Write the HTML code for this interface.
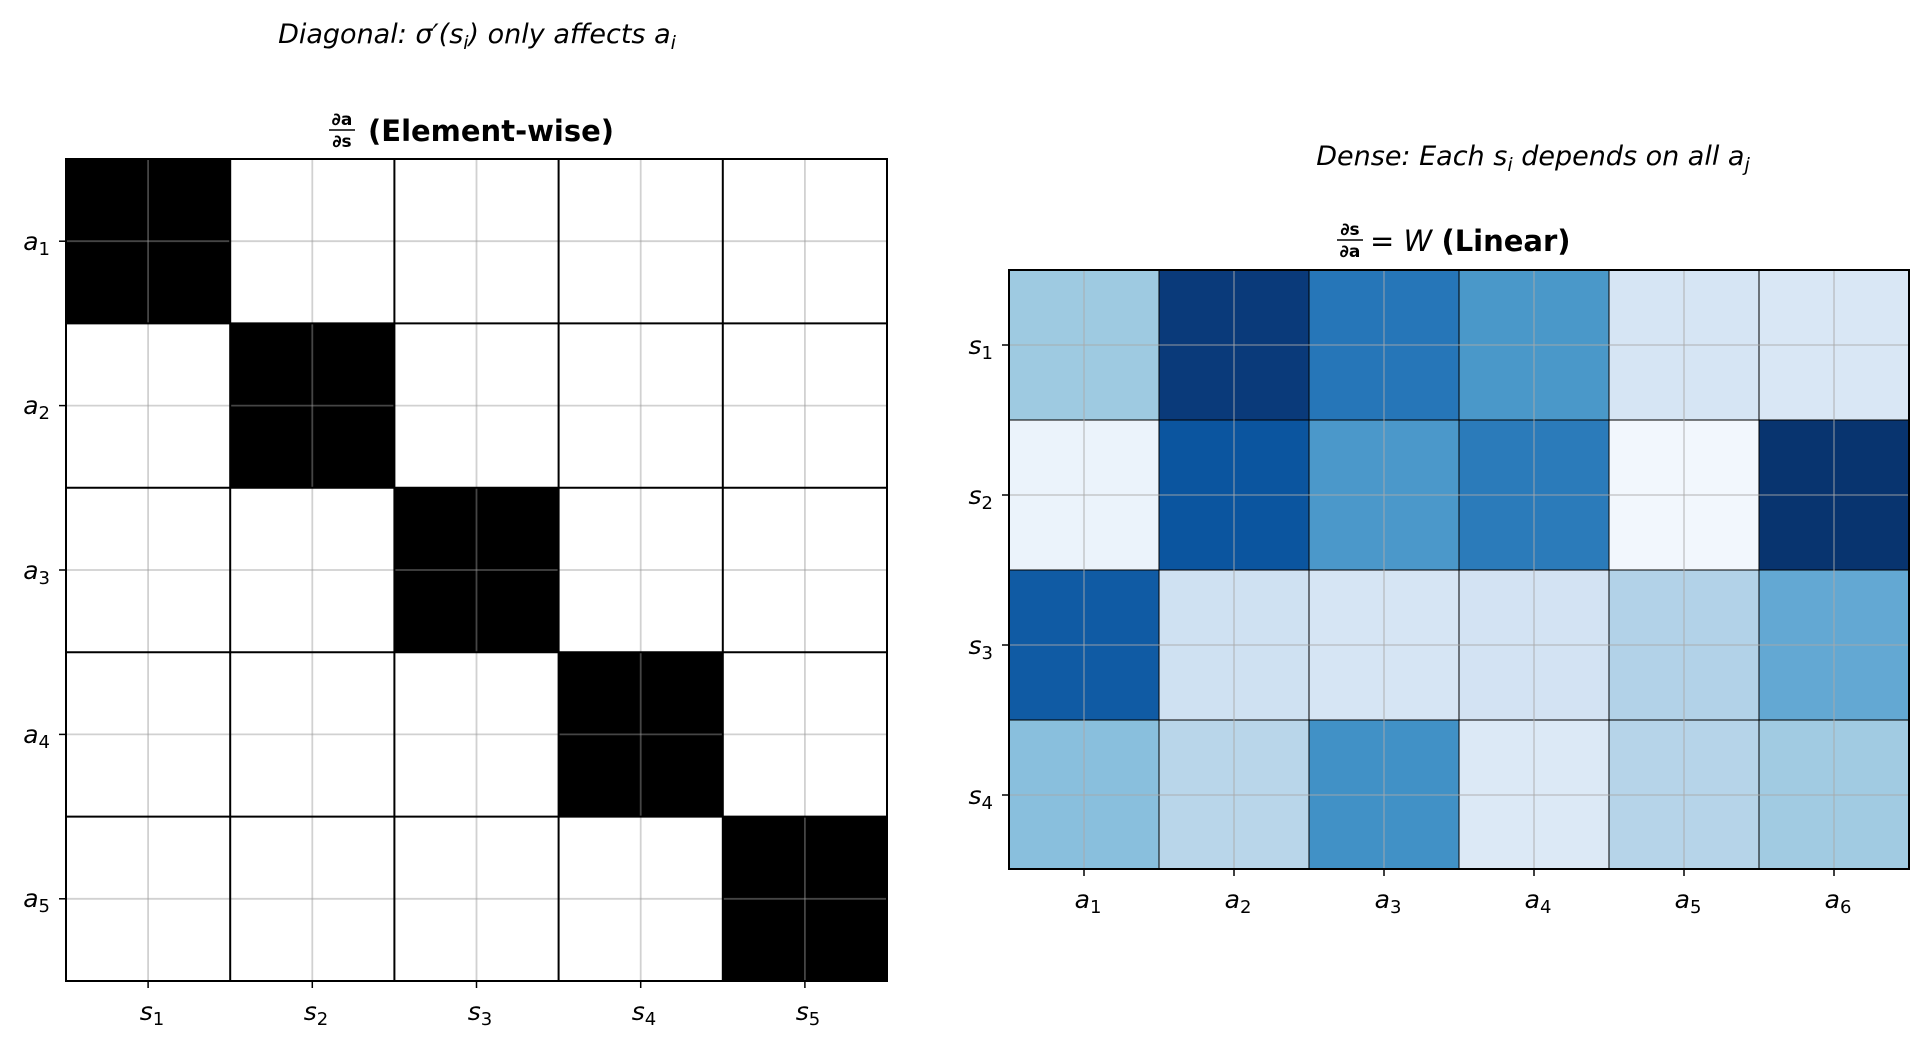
<!DOCTYPE html>
<html><head><meta charset="utf-8"><style>html,body{margin:0;padding:0;background:#fff}</style></head>
<body>
<svg width="1927" height="1044" xmlns="http://www.w3.org/2000/svg" font-family="DejaVu Sans, sans-serif">
<rect width="1927" height="1044" fill="#fff"/>
<text x="477" y="43" font-size="27" font-style="italic" text-anchor="middle">Diagonal: σ′(s<tspan font-size="19" dy="6">i</tspan><tspan dy="-6">) only affects a</tspan><tspan font-size="19" dy="6">i</tspan></text>
<g font-weight="bold">
<text x="342" y="125" font-size="17" text-anchor="middle">∂a</text>
<line x1="329" y1="130" x2="355" y2="130" stroke="#000" stroke-width="1.4"/>
<text x="342" y="147" font-size="17" text-anchor="middle">∂s</text>
<text x="368" y="141" font-size="29">(Element-wise)</text>
</g>
<g>
<rect x="66" y="159" width="821" height="822" fill="#fff"/>
<rect x="66" y="159" width="164.2" height="164.4" fill="#000"/>
<rect x="230.2" y="323.4" width="164.2" height="164.4" fill="#000"/>
<rect x="394.4" y="487.8" width="164.2" height="164.4" fill="#000"/>
<rect x="558.6" y="652.2" width="164.2" height="164.4" fill="#000"/>
<rect x="722.8" y="816.6" width="164.2" height="164.4" fill="#000"/>
<g stroke="#999" stroke-opacity="0.45" stroke-width="1.8">
<line x1="148.1" y1="159" x2="148.1" y2="981"/><line x1="312.3" y1="159" x2="312.3" y2="981"/><line x1="476.5" y1="159" x2="476.5" y2="981"/><line x1="640.7" y1="159" x2="640.7" y2="981"/><line x1="804.9" y1="159" x2="804.9" y2="981"/>
<line x1="66" y1="241.2" x2="887" y2="241.2"/><line x1="66" y1="405.6" x2="887" y2="405.6"/><line x1="66" y1="570" x2="887" y2="570"/><line x1="66" y1="734.4" x2="887" y2="734.4"/><line x1="66" y1="898.8" x2="887" y2="898.8"/>
</g>
<g stroke="#000" stroke-width="2">
<line x1="230.2" y1="159" x2="230.2" y2="981"/><line x1="394.4" y1="159" x2="394.4" y2="981"/><line x1="558.6" y1="159" x2="558.6" y2="981"/><line x1="722.8" y1="159" x2="722.8" y2="981"/>
<line x1="66" y1="323.4" x2="887" y2="323.4"/><line x1="66" y1="487.8" x2="887" y2="487.8"/><line x1="66" y1="652.2" x2="887" y2="652.2"/><line x1="66" y1="816.6" x2="887" y2="816.6"/>
</g>
<rect x="66" y="159" width="821" height="822" fill="none" stroke="#000" stroke-width="2"/>
<g stroke="#000" stroke-width="1.5">
<line x1="59" y1="241.2" x2="66" y2="241.2"/><line x1="59" y1="405.6" x2="66" y2="405.6"/><line x1="59" y1="570" x2="66" y2="570"/><line x1="59" y1="734.4" x2="66" y2="734.4"/><line x1="59" y1="898.8" x2="66" y2="898.8"/>
<line x1="148.1" y1="981" x2="148.1" y2="988"/><line x1="312.3" y1="981" x2="312.3" y2="988"/><line x1="476.5" y1="981" x2="476.5" y2="988"/><line x1="640.7" y1="981" x2="640.7" y2="988"/><line x1="804.9" y1="981" x2="804.9" y2="988"/>
</g>
<g font-size="25" font-style="italic" text-anchor="end">
<text x="50" y="250">a<tspan font-size="18" font-style="normal" dy="5">1</tspan></text>
<text x="50" y="414">a<tspan font-size="18" font-style="normal" dy="5">2</tspan></text>
<text x="50" y="579">a<tspan font-size="18" font-style="normal" dy="5">3</tspan></text>
<text x="50" y="743">a<tspan font-size="18" font-style="normal" dy="5">4</tspan></text>
<text x="50" y="907">a<tspan font-size="18" font-style="normal" dy="5">5</tspan></text>
</g>
<g font-size="25" font-style="italic" text-anchor="middle">
<text x="152" y="1020">s<tspan font-size="18" font-style="normal" dy="5">1</tspan></text>
<text x="316" y="1020">s<tspan font-size="18" font-style="normal" dy="5">2</tspan></text>
<text x="480" y="1020">s<tspan font-size="18" font-style="normal" dy="5">3</tspan></text>
<text x="644" y="1020">s<tspan font-size="18" font-style="normal" dy="5">4</tspan></text>
<text x="808" y="1020">s<tspan font-size="18" font-style="normal" dy="5">5</tspan></text>
</g>
</g>
<text x="1533" y="165" font-size="27" font-style="italic" text-anchor="middle">Dense: Each s<tspan font-size="19" dy="6">i</tspan><tspan dy="-6"> depends on all a</tspan><tspan font-size="19" dy="6">j</tspan></text>
<g>
<text x="1350" y="235" font-size="17" font-weight="bold" text-anchor="middle">∂s</text>
<line x1="1337" y1="240" x2="1363" y2="240" stroke="#000" stroke-width="1.4"/>
<text x="1350" y="257" font-size="17" font-weight="bold" text-anchor="middle">∂a</text>
<text x="1370" y="251" font-size="29">= <tspan font-style="italic" font-weight="normal">W</tspan> <tspan font-weight="bold">(Linear)</tspan></text>
</g>
<g>
<g stroke="#000" stroke-width="1">
<rect x="1009" y="270" width="150" height="150" fill="#9ecae1"/>
<rect x="1159" y="270" width="150" height="150" fill="#0a3a7a"/>
<rect x="1309" y="270" width="150" height="150" fill="#2676b8"/>
<rect x="1459" y="270" width="150" height="150" fill="#4a98c9"/>
<rect x="1609" y="270" width="150" height="150" fill="#d6e5f4"/>
<rect x="1759" y="270" width="150" height="150" fill="#d9e7f5"/>
<rect x="1009" y="420" width="150" height="150" fill="#ebf3fb"/>
<rect x="1159" y="420" width="150" height="150" fill="#0b559f"/>
<rect x="1309" y="420" width="150" height="150" fill="#4b98ca"/>
<rect x="1459" y="420" width="150" height="150" fill="#2b7bba"/>
<rect x="1609" y="420" width="150" height="150" fill="#f2f7fd"/>
<rect x="1759" y="420" width="150" height="150" fill="#08346f"/>
<rect x="1009" y="570" width="150" height="150" fill="#105ba4"/>
<rect x="1159" y="570" width="150" height="150" fill="#cfe1f2"/>
<rect x="1309" y="570" width="150" height="150" fill="#d6e5f4"/>
<rect x="1459" y="570" width="150" height="150" fill="#d3e3f3"/>
<rect x="1609" y="570" width="150" height="150" fill="#b2d2e8"/>
<rect x="1759" y="570" width="150" height="150" fill="#63a8d3"/>
<rect x="1009" y="720" width="150" height="149" fill="#89bfdd"/>
<rect x="1159" y="720" width="150" height="149" fill="#b9d6ea"/>
<rect x="1309" y="720" width="150" height="149" fill="#4191c6"/>
<rect x="1459" y="720" width="150" height="149" fill="#dce9f6"/>
<rect x="1609" y="720" width="150" height="149" fill="#b6d4e9"/>
<rect x="1759" y="720" width="150" height="149" fill="#a1cbe2"/>
</g>
<g stroke="#aaa" stroke-opacity="0.5" stroke-width="1.8">
<line x1="1084" y1="270" x2="1084" y2="869"/><line x1="1234" y1="270" x2="1234" y2="869"/><line x1="1384" y1="270" x2="1384" y2="869"/><line x1="1534" y1="270" x2="1534" y2="869"/><line x1="1684" y1="270" x2="1684" y2="869"/><line x1="1834" y1="270" x2="1834" y2="869"/>
<line x1="1009" y1="345" x2="1909" y2="345"/><line x1="1009" y1="495" x2="1909" y2="495"/><line x1="1009" y1="645" x2="1909" y2="645"/><line x1="1009" y1="795" x2="1909" y2="795"/>
</g>
<rect x="1009" y="270" width="900" height="599" fill="none" stroke="#000" stroke-width="2"/>
<g stroke="#000" stroke-width="1.5">
<line x1="1002" y1="345" x2="1009" y2="345"/><line x1="1002" y1="495" x2="1009" y2="495"/><line x1="1002" y1="645" x2="1009" y2="645"/><line x1="1002" y1="795" x2="1009" y2="795"/>
<line x1="1084" y1="869" x2="1084" y2="876"/><line x1="1234" y1="869" x2="1234" y2="876"/><line x1="1384" y1="869" x2="1384" y2="876"/><line x1="1534" y1="869" x2="1534" y2="876"/><line x1="1684" y1="869" x2="1684" y2="876"/><line x1="1834" y1="869" x2="1834" y2="876"/>
</g>
<g font-size="25" font-style="italic" text-anchor="end">
<text x="993" y="354">s<tspan font-size="18" font-style="normal" dy="5">1</tspan></text>
<text x="993" y="504">s<tspan font-size="18" font-style="normal" dy="5">2</tspan></text>
<text x="993" y="654">s<tspan font-size="18" font-style="normal" dy="5">3</tspan></text>
<text x="993" y="804">s<tspan font-size="18" font-style="normal" dy="5">4</tspan></text>
</g>
<g font-size="25" font-style="italic" text-anchor="middle">
<text x="1088" y="908">a<tspan font-size="18" font-style="normal" dy="5">1</tspan></text>
<text x="1238" y="908">a<tspan font-size="18" font-style="normal" dy="5">2</tspan></text>
<text x="1388" y="908">a<tspan font-size="18" font-style="normal" dy="5">3</tspan></text>
<text x="1538" y="908">a<tspan font-size="18" font-style="normal" dy="5">4</tspan></text>
<text x="1688" y="908">a<tspan font-size="18" font-style="normal" dy="5">5</tspan></text>
<text x="1838" y="908">a<tspan font-size="18" font-style="normal" dy="5">6</tspan></text>
</g>
</g>
</svg>
</body></html>
